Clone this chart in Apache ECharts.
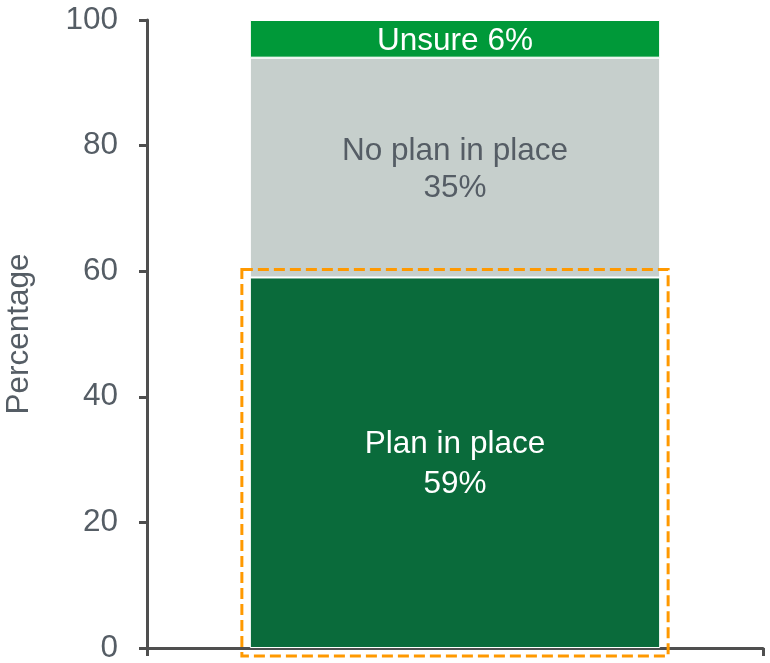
<!DOCTYPE html>
<html>
<head>
<meta charset="utf-8">
<title>Plan in place</title>
<script src="https://cdn.jsdelivr.net/npm/echarts@6/dist/echarts.min.js"></script>
<style>
  html, body { margin: 0; padding: 0; background: #ffffff; }
  #chart { width: 770px; height: 663px; }
</style>
</head>
<body>
<div id="chart"></div>
<script>
// Response shares (percent), stacked bottom to top
const categories = [''];
const segmentNames = ['Plan in place', 'No plan in place', 'Unsure'];
const planInPlace = [59];
const noPlanInPlace = [35];
const unsure = [6];
const yTicks = [0, 20, 40, 60, 80, 100];

const FONT = '"Liberation Sans", Arial, sans-serif';
const FONT_SIZE = 31.5;
const TEXT_GREY = '#555d65';
const AXIS_GREY = '#4f4f4f';
const BAR_WIDTH_RATIO = 0.666;

const chart = echarts.init(document.getElementById('chart'), null, { renderer: 'canvas' });

function segment(name, values, color, labelColor, lineHeight, oneLine) {
  return {
    name: name,
    type: 'bar',
    stack: 'total',
    barWidth: (BAR_WIDTH_RATIO * 100) + '%',
    data: values,
    itemStyle: { color: color, borderColor: '#ffffff', borderWidth: 1 },
    label: {
      show: true,
      position: 'inside',
      offset: [0, 2],
      color: labelColor,
      fontFamily: FONT,
      fontSize: FONT_SIZE,
      lineHeight: lineHeight,
      formatter: p => oneLine ? p.seriesName + ' ' + p.value + '%'
                              : p.seriesName + '\n' + p.value + '%'
    },
    emphasis: { disabled: true },
    animation: false
  };
}

const option = {
  animation: false,
  grid: { left: 147, right: 7, top: 20, bottom: 15, containLabel: false, outerBoundsMode: 'none' },
  xAxis: {
    type: 'category',
    data: categories,
    boundaryGap: true,
    axisLine: { show: true, lineStyle: { color: AXIS_GREY, width: 3 } },
    axisTick: { show: true, alignWithLabel: false, length: 8, lineStyle: { color: AXIS_GREY, width: 3 } },
    axisLabel: { show: false },
    splitLine: { show: false }
  },
  yAxis: {
    type: 'value',
    min: yTicks[0],
    max: yTicks[yTicks.length - 1],
    interval: yTicks[1] - yTicks[0],
    name: 'Percentage',
    nameLocation: 'middle',
    nameGap: 112,
    nameTextStyle: { color: TEXT_GREY, fontFamily: FONT, fontSize: FONT_SIZE },
    axisLine: { show: true, lineStyle: { color: AXIS_GREY, width: 3 } },
    axisTick: { show: true, length: 8, lineStyle: { color: AXIS_GREY, width: 3 } },
    axisLabel: { color: TEXT_GREY, fontFamily: FONT, fontSize: FONT_SIZE, margin: 29 },
    splitLine: { show: false }
  },
  series: [
    segment(segmentNames[0], planInPlace, '#0a6b3b', '#ffffff', 40, false),
    segment(segmentNames[1], noPlanInPlace, '#c6cfcc', TEXT_GREY, 37, false),
    segment(segmentNames[2], unsure, '#009939', '#ffffff', 36, true),
    {
      // Dashed highlight around the "Plan in place" segment
      type: 'custom',
      name: 'highlight',
      data: planInPlace.map((v, i) => [i, v]),
      clip: false,
      z: 10,
      renderItem: function (params, api) {
        const pad = 8;
        const top = api.coord([api.value(0), api.value(1)]);
        const base = api.coord([api.value(0), 0]);
        const bw = api.size([1, 0])[0] * BAR_WIDTH_RATIO;
        return {
          type: 'rect',
          shape: {
            x: top[0] - bw / 2 - pad,
            y: top[1] - pad,
            width: bw + pad * 2,
            height: base[1] - top[1] + pad * 2
          },
          style: { fill: 'none', stroke: '#ff9900', lineWidth: 3, lineDash: [11, 5] }
        };
      },
      silent: true,
      animation: false
    }
  ]
};

chart.setOption(option);
</script>
</body>
</html>
